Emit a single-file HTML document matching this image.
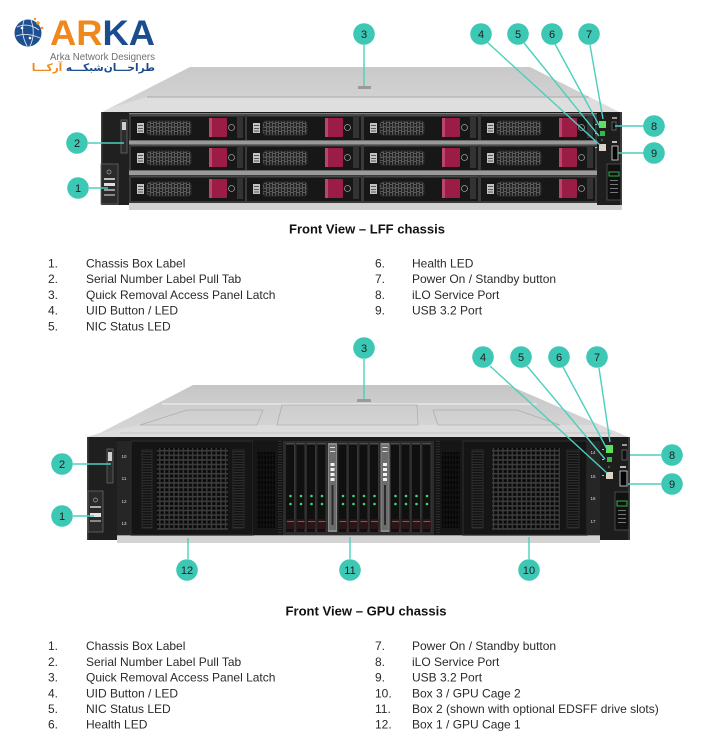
<!DOCTYPE html>
<html><head><meta charset="utf-8">
<style>
html,body{margin:0;padding:0;background:#fff;}
body{position:relative;width:720px;height:750px;overflow:hidden;}
svg{position:absolute;left:0;top:0;display:block}
text{font-family:"Liberation Sans",sans-serif;}
.fa{position:absolute;font-family:"DejaVu Sans",sans-serif;font-size:10.5px;line-height:12px;white-space:nowrap;font-weight:bold;}
</style></head><body>
<svg width="720" height="750" viewBox="0 0 720 750" xmlns="http://www.w3.org/2000/svg">
<defs>
 <linearGradient id="topG" x1="0" y1="0" x2="0" y2="1">
  <stop offset="0" stop-color="#c9c9c9"/><stop offset="1" stop-color="#d6d6d6"/>
 </linearGradient>
 <linearGradient id="topG2" x1="0" y1="0" x2="0" y2="1">
  <stop offset="0" stop-color="#c6c6c6"/><stop offset="1" stop-color="#d8d8d8"/>
 </linearGradient>
 <pattern id="hex" width="6" height="8" patternUnits="userSpaceOnUse">
  <rect width="6" height="8" fill="#1d1d1d"/>
  <circle cx="3" cy="2" r="1.9" fill="none" stroke="#858585" stroke-width="0.7"/>
  <circle cx="0" cy="6" r="1.9" fill="none" stroke="#858585" stroke-width="0.7"/>
  <circle cx="6" cy="6" r="1.9" fill="none" stroke="#858585" stroke-width="0.7"/>
 </pattern>
 <pattern id="grid" width="4.7" height="4.6" patternUnits="userSpaceOnUse">
  <rect width="4.7" height="4.6" fill="#3c3c3c"/>
  <rect x="0.7" y="0.7" width="3.3" height="3" fill="#0a0a0a"/>
 </pattern>
 <pattern id="ribs" width="4" height="2.6" patternUnits="userSpaceOnUse">
  <rect width="4" height="2.6" fill="#111"/>
  <rect y="1.6" width="4" height="0.8" fill="#3a3a3a"/>
 </pattern>
 <pattern id="vent" width="3" height="5" patternUnits="userSpaceOnUse">
  <rect width="3" height="5" fill="#151515"/>
  <rect x="0.3" y="0.5" width="2" height="4" fill="#050505"/>
 </pattern>
 <g id="ldrv">
  <rect width="114" height="25" fill="#171717"/>
  <rect width="114" height="1.5" fill="#4a4a4a"/>
  <rect x="6" y="8" width="7" height="10" fill="#c4c4c4"/>
  <rect x="7" y="10" width="5" height="1" fill="#555"/>
  <rect x="7" y="13" width="5" height="1" fill="#555"/>
  <rect x="7" y="15.5" width="5" height="1" fill="#555"/>
  <rect x="16" y="6" width="44" height="14" rx="3" fill="url(#hex)" stroke="#2e2e2e" stroke-width="1"/>
  <rect x="78" y="3" width="18" height="19" rx="1" fill="#9b1c44"/>
  <rect x="78" y="3" width="3" height="19" fill="#b9476c"/>
  <circle cx="100.5" cy="12.5" r="3" fill="none" stroke="#9a9a9a" stroke-width="0.8"/>
  <rect x="106" y="2" width="6" height="21" fill="#333"/>
 </g>
 <g id="gdrv">
  <rect width="9" height="89" fill="#101010"/>
  <rect width="9" height="1.5" fill="#4a4a4a"/>
  <rect x="8" width="1" height="89" fill="#383838"/>
  <circle cx="4.5" cy="53" r="1.3" fill="#3fd67a"/>
  <circle cx="4.5" cy="61" r="1.3" fill="#3fd67a"/>
  <rect x="0.5" y="76" width="8" height="10" fill="#2b1517"/>
  <rect x="1" y="78" width="7" height="1" fill="#c33a4d"/>
 </g>
 <g id="ctrl">
  <rect width="9" height="89" fill="#8a8a8a"/>
  <rect x="1" y="2" width="7" height="85" fill="#6c6c6c"/>
  <rect x="2.5" y="20" width="4" height="3" fill="#f2f2f2"/>
  <rect x="2.5" y="25" width="4" height="3" fill="#f2f2f2"/>
  <rect x="2.5" y="30" width="4" height="3" fill="#f2f2f2"/>
  <rect x="2.5" y="35" width="4" height="3" fill="#f2f2f2"/>
  <rect x="3.5" y="42" width="2" height="40" fill="#2a2a2a"/>
  <rect x="2" y="4" width="5" height="1" fill="#ddd"/>
  <rect x="2" y="8" width="5" height="1" fill="#ddd"/>
 </g>
</defs>

<!-- ===== LOGO ===== -->
<circle cx="28" cy="33" r="13.5" fill="#1d4f91"/>
<path d="M17,27 Q28,22 39,30 M16,36 Q27,32 40,38 M24,20 Q20,33 27,46 M31,20 Q36,34 30,46" fill="none" stroke="#fff" stroke-width="0.9" opacity="0.85"/>
<circle cx="38" cy="23" r="1.8" fill="#f39a2b"/>
<circle cx="42" cy="28" r="1.4" fill="#f39a2b"/>
<circle cx="35" cy="19" r="1.2" fill="#f39a2b"/>
<circle cx="22" cy="28" r="1.3" fill="#fff"/>
<circle cx="30" cy="38" r="1.3" fill="#fff"/>
<text x="50" y="45" font-size="35" font-weight="bold" textLength="105" lengthAdjust="spacingAndGlyphs"><tspan fill="#f0891d">AR</tspan><tspan fill="#1b4d8e">KA</tspan></text>
<text x="50" y="60" font-size="10.5" fill="#707070" textLength="105" lengthAdjust="spacingAndGlyphs">Arka Network Designers</text>

<!-- ===== LFF SERVER ===== -->
<polygon points="190,67 530,67 621,113 101,113 110,108" fill="url(#topG)"/>
<polygon points="147,97 589,97 621,113 101,113 110,108" fill="#dedede"/>
<line x1="147" y1="97" x2="589" y2="97" stroke="#a8a8a8" stroke-width="1"/>
<rect x="101" y="112" width="521" height="93" fill="#1b1b1b"/>
<rect x="129" y="203" width="493" height="7" fill="#d2d2d2"/>
<rect x="129" y="113" width="468" height="90" fill="#3a3a3a"/>
<rect x="129" y="113" width="468" height="1.2" fill="#808080"/>
<rect x="129" y="140.5" width="468" height="4" fill="#9a9a9a"/>
<rect x="129" y="170.5" width="468" height="4.5" fill="#9a9a9a"/>
<use href="#ldrv" x="131" y="115"/><use href="#ldrv" x="247" y="115"/><use href="#ldrv" x="364" y="115"/><use href="#ldrv" x="481" y="115"/>
<use href="#ldrv" x="131" y="145"/><use href="#ldrv" x="247" y="145"/><use href="#ldrv" x="364" y="145"/><use href="#ldrv" x="481" y="145"/>
<use href="#ldrv" x="131" y="176"/><use href="#ldrv" x="247" y="176"/><use href="#ldrv" x="364" y="176"/><use href="#ldrv" x="481" y="176"/>
<!-- left ear -->
<rect x="101" y="112" width="28" height="93" fill="#202020"/>
<rect x="101" y="112" width="1.5" height="93" fill="#3d3d3d"/>
<rect x="121" y="120" width="6" height="33" fill="#2c2c2c" stroke="#6a6a6a" stroke-width="0.8"/>
<rect x="122" y="122" width="4" height="8" fill="#cfcfcf"/>
<rect x="101" y="164" width="17" height="40" fill="#2b2b2b" stroke="#666" stroke-width="0.8"/>
<circle cx="109" cy="172" r="2" fill="none" stroke="#aaa" stroke-width="0.7"/>
<rect x="104" y="178" width="11" height="2" fill="#bbb"/>
<rect x="104" y="183" width="11" height="3" fill="#ddd"/>
<rect x="104" y="189" width="11" height="2" fill="#999"/>
<rect x="104" y="194" width="11" height="2" fill="#888"/>
<!-- right ear -->
<rect x="597" y="112" width="25" height="93" fill="#1e1e1e"/>
<rect x="620" y="112" width="2" height="93" fill="#3a3a3a"/>
<rect x="599" y="121" width="7" height="7" fill="#5fe05a"/>
<rect x="600" y="131" width="5" height="5" fill="#2fbf3f"/>
<circle cx="602" cy="140" r="1.2" fill="#555"/>
<rect x="599" y="144" width="7" height="7" fill="#ddd3c4"/>
<rect x="595" y="124" width="2" height="1" fill="#bbb"/><rect x="595" y="133" width="2" height="1" fill="#bbb"/><rect x="595" y="147" width="2" height="1" fill="#bbb"/>
<rect x="612" y="117" width="5" height="2" fill="#999"/>
<rect x="612" y="122" width="4" height="8" fill="#111" stroke="#777" stroke-width="0.7"/>
<rect x="612" y="141" width="5" height="2" fill="#bbb"/>
<rect x="612" y="146" width="6" height="14" fill="#050505" stroke="#c9c9c9" stroke-width="0.9"/>
<rect x="607" y="164" width="14" height="36" fill="#111" stroke="#555" stroke-width="0.8"/>
<rect x="609" y="172" width="10" height="4" fill="none" stroke="#2ab34a" stroke-width="1"/>
<rect x="610" y="180" width="8" height="1" fill="#777"/><rect x="610" y="184" width="8" height="1" fill="#777"/><rect x="610" y="188" width="8" height="1" fill="#777"/><rect x="610" y="192" width="8" height="1" fill="#777"/>

<!-- LFF callouts -->
<g stroke="#4ccfbd" stroke-width="1.4" fill="none">
 <line x1="364" y1="45" x2="364" y2="88"/>
 <line x1="487" y1="42" x2="600" y2="145"/>
 <line x1="524" y1="43" x2="599" y2="136"/>
 <line x1="555" y1="44" x2="600" y2="127"/>
 <line x1="590" y1="45" x2="603" y2="119"/>
 <line x1="615" y1="126" x2="644" y2="126"/>
 <line x1="618" y1="153" x2="644" y2="153"/>
 <line x1="88" y1="143" x2="124" y2="143"/>
 <line x1="89" y1="188" x2="108" y2="188"/>
</g>
<rect x="358" y="86" width="13" height="3" fill="#9a9a9a"/>
<g fill="#3cc8b4">
 <circle cx="364" cy="34" r="10.8"/><circle cx="481" cy="34" r="10.8"/><circle cx="518" cy="34" r="10.8"/>
 <circle cx="552" cy="34" r="10.8"/><circle cx="589" cy="34" r="10.8"/><circle cx="654" cy="126" r="10.8"/>
 <circle cx="654" cy="153" r="10.8"/><circle cx="77" cy="143" r="10.8"/><circle cx="78" cy="188" r="10.8"/>
</g>
<g font-size="11" fill="#1e1e1e" text-anchor="middle">
 <text x="364" y="38">3</text><text x="481" y="38">4</text><text x="518" y="38">5</text>
 <text x="552" y="38">6</text><text x="589" y="38">7</text><text x="654" y="130">8</text>
 <text x="654" y="157">9</text><text x="77" y="147">2</text><text x="78" y="192">1</text>
</g>

<!-- LFF texts -->
<text x="367" y="233.5" font-size="13" font-weight="bold" fill="#111" text-anchor="middle" textLength="156" lengthAdjust="spacingAndGlyphs">Front View – LFF chassis</text>
<g font-size="12" fill="#2a2a2a">
 <text x="48" y="267.5">1.</text><text x="86" y="267.5">Chassis Box Label</text>
 <text x="48" y="283.2">2.</text><text x="86" y="283.2">Serial Number Label Pull Tab</text>
 <text x="48" y="299">3.</text><text x="86" y="299">Quick Removal Access Panel Latch</text>
 <text x="48" y="314.7">4.</text><text x="86" y="314.7">UID Button / LED</text>
 <text x="48" y="330.3">5.</text><text x="86" y="330.3">NIC Status LED</text>
 <text x="375" y="267.5">6.</text><text x="412" y="267.5">Health LED</text>
 <text x="375" y="283.2">7.</text><text x="412" y="283.2">Power On / Standby button</text>
 <text x="375" y="299">8.</text><text x="412" y="299">iLO Service Port</text>
 <text x="375" y="314.7">9.</text><text x="412" y="314.7">USB 3.2 Port</text>
</g>

<!-- ===== GPU SERVER ===== -->
<polygon points="193,385 508,385 628,437 87,437 100,433" fill="url(#topG2)"/>
<polygon points="140,425 600,425 628,437 87,437 100,433" fill="#dcdcdc"/>
<line x1="162" y1="404" x2="537" y2="404" stroke="#e8e8e8" stroke-width="1.5"/>
<line x1="120" y1="433" x2="612" y2="433" stroke="#bdbdbd" stroke-width="0.8"/>
<g fill="none" stroke="#aeaeae" stroke-width="0.8">
 <polygon points="187,410 263,410 257,425 140,425"/>
 <polygon points="282,405 417,405 418,425 277,425"/>
 <polygon points="433,410 517,410 560,425 438,425"/>
</g>
<rect x="87" y="437" width="543" height="103" fill="#1a1a1a"/>
<rect x="117" y="535" width="483" height="8" fill="#d3d3d3"/>
<rect x="117" y="535" width="483" height="1" fill="#9a9a9a"/>
<!-- left ear -->
<rect x="87" y="437" width="30" height="103" fill="#1f1f1f"/>
<rect x="87" y="437" width="1.5" height="103" fill="#3d3d3d"/>
<rect x="107" y="449" width="6" height="34" fill="#2c2c2c" stroke="#666" stroke-width="0.8"/>
<rect x="108" y="452" width="4" height="9" fill="#d0d0d0"/>
<rect x="88" y="491" width="15" height="41" fill="#2a2a2a" stroke="#666" stroke-width="0.8"/>
<circle cx="95.5" cy="500" r="2" fill="none" stroke="#aaa" stroke-width="0.7"/>
<rect x="90" y="506" width="11" height="2" fill="#aaa"/>
<rect x="90" y="513" width="11" height="4" fill="#e4e4e4"/>
<rect x="90" y="520" width="11" height="2" fill="#888"/>
<!-- number strip left -->
<rect x="117" y="441" width="14" height="94" fill="#262626"/>
<g font-size="4.5" fill="#ddd" text-anchor="middle"><text x="124" y="458">10</text><text x="124" y="480">11</text><text x="124" y="503">12</text><text x="124" y="525">13</text></g>
<!-- GPU cage 1 -->
<rect x="131" y="441" width="122" height="94" fill="#151515" stroke="#2e2e2e" stroke-width="1"/>
<rect x="157" y="448" width="71" height="82" fill="url(#grid)"/>
<rect x="142" y="450" width="10" height="78" fill="url(#ribs)" stroke="#2a2a2a"/>
<rect x="233" y="450" width="11" height="78" fill="url(#ribs)" stroke="#2a2a2a"/>
<!-- vent strip 1 -->
<rect x="253" y="441" width="30" height="94" fill="#161616"/>
<rect x="257" y="452" width="18" height="76" fill="url(#vent)"/>
<rect x="278" y="441" width="4" height="94" fill="url(#ribs)"/>
<!-- drive cage -->
<rect x="283" y="441" width="151" height="94" fill="#2c2c2c"/>
<use href="#gdrv" x="286" y="443"/><use href="#gdrv" x="296.5" y="443"/><use href="#gdrv" x="307" y="443"/><use href="#gdrv" x="317.5" y="443"/>
<use href="#ctrl" x="328" y="443"/>
<use href="#gdrv" x="338.5" y="443"/><use href="#gdrv" x="349" y="443"/><use href="#gdrv" x="359.5" y="443"/><use href="#gdrv" x="370" y="443"/>
<use href="#ctrl" x="380.5" y="443"/>
<use href="#gdrv" x="391" y="443"/><use href="#gdrv" x="401.5" y="443"/><use href="#gdrv" x="412" y="443"/><use href="#gdrv" x="422.5" y="443"/>
<!-- vent strip 2 -->
<rect x="434" y="441" width="29" height="94" fill="#161616"/>
<rect x="436" y="441" width="4" height="94" fill="url(#ribs)"/>
<rect x="442" y="452" width="18" height="76" fill="url(#vent)"/>
<!-- GPU cage 2 -->
<rect x="463" y="441" width="124" height="94" fill="#151515" stroke="#2e2e2e" stroke-width="1"/>
<rect x="492" y="448" width="68" height="82" fill="url(#grid)"/>
<rect x="472" y="450" width="11" height="78" fill="url(#ribs)" stroke="#2a2a2a"/>
<rect x="567" y="450" width="12" height="78" fill="url(#ribs)" stroke="#2a2a2a"/>
<!-- number strip right -->
<rect x="587" y="441" width="13" height="94" fill="#262626"/>
<g font-size="4.5" fill="#ddd" text-anchor="middle"><text x="593" y="454">14</text><text x="593" y="478">15</text><text x="593" y="500">16</text><text x="593" y="523">17</text></g>
<!-- right ear -->
<rect x="600" y="437" width="30" height="103" fill="#1d1d1d"/>
<rect x="628" y="437" width="2" height="103" fill="#3a3a3a"/>
<rect x="606" y="445" width="7" height="8" fill="#5fe05a"/>
<rect x="607" y="457" width="5" height="5" fill="#2fbf3f"/>
<circle cx="609" cy="467" r="1.2" fill="#555"/>
<rect x="606" y="472" width="7" height="7" fill="#ddd3c4"/>
<rect x="602" y="449" width="2" height="1" fill="#bbb"/><rect x="602" y="459" width="2" height="1" fill="#bbb"/><rect x="602" y="475" width="2" height="1" fill="#bbb"/>
<rect x="622" y="444" width="5" height="2" fill="#999"/>
<rect x="622" y="450" width="5" height="10" fill="#111" stroke="#777" stroke-width="0.7"/>
<rect x="620" y="466" width="6" height="2" fill="#bbb"/>
<rect x="620" y="471" width="7" height="15" fill="#050505" stroke="#c9c9c9" stroke-width="0.9"/>
<rect x="615" y="492" width="14" height="38" fill="#111" stroke="#555" stroke-width="0.8"/>
<rect x="617" y="501" width="10" height="5" fill="none" stroke="#2ab34a" stroke-width="1"/>
<rect x="618" y="510" width="8" height="1" fill="#777"/><rect x="618" y="514" width="8" height="1" fill="#777"/><rect x="618" y="518" width="8" height="1" fill="#777"/><rect x="618" y="522" width="8" height="1" fill="#777"/>

<!-- GPU callouts -->
<g stroke="#4ccfbd" stroke-width="1.4" fill="none">
 <line x1="364" y1="359" x2="364" y2="400"/>
 <line x1="490" y1="366" x2="607" y2="473"/>
 <line x1="527" y1="366" x2="605" y2="459"/>
 <line x1="563" y1="367" x2="607" y2="449"/>
 <line x1="599" y1="368" x2="610" y2="442"/>
 <line x1="630" y1="455" x2="661" y2="455"/>
 <line x1="628" y1="484" x2="661" y2="484"/>
 <line x1="73" y1="464" x2="111" y2="464"/>
 <line x1="73" y1="516" x2="94" y2="516"/>
 <line x1="188" y1="538" x2="188" y2="559"/>
 <line x1="350" y1="537" x2="350" y2="559"/>
 <line x1="529" y1="537" x2="529" y2="559"/>
</g>
<rect x="357" y="399" width="14" height="3" fill="#9a9a9a"/>
<g fill="#3cc8b4">
 <circle cx="364" cy="348" r="10.8"/><circle cx="483" cy="357" r="10.8"/><circle cx="521" cy="357" r="10.8"/>
 <circle cx="559" cy="357" r="10.8"/><circle cx="597" cy="357" r="10.8"/><circle cx="672" cy="455" r="10.8"/>
 <circle cx="672" cy="484" r="10.8"/><circle cx="62" cy="464" r="10.8"/><circle cx="62" cy="516" r="10.8"/>
 <circle cx="187" cy="570" r="10.8"/><circle cx="350" cy="570" r="10.8"/><circle cx="529" cy="570" r="10.8"/>
</g>
<g font-size="11" fill="#1e1e1e" text-anchor="middle">
 <text x="364" y="352">3</text><text x="483" y="361">4</text><text x="521" y="361">5</text>
 <text x="559" y="361">6</text><text x="597" y="361">7</text><text x="672" y="459">8</text>
 <text x="672" y="488">9</text><text x="62" y="468">2</text><text x="62" y="520">1</text>
 <text x="187" y="574">12</text><text x="350" y="574">11</text><text x="529" y="574">10</text>
</g>

<!-- GPU texts -->
<text x="366" y="615.4" font-size="13" font-weight="bold" fill="#111" text-anchor="middle" textLength="161" lengthAdjust="spacingAndGlyphs">Front View – GPU chassis</text>
<g font-size="12" fill="#2a2a2a">
 <text x="48" y="650.2">1.</text><text x="86" y="650.2">Chassis Box Label</text>
 <text x="48" y="666">2.</text><text x="86" y="666">Serial Number Label Pull Tab</text>
 <text x="48" y="681.6">3.</text><text x="86" y="681.6">Quick Removal Access Panel Latch</text>
 <text x="48" y="697.3">4.</text><text x="86" y="697.3">UID Button / LED</text>
 <text x="48" y="712.9">5.</text><text x="86" y="712.9">NIC Status LED</text>
 <text x="48" y="728.6">6.</text><text x="86" y="728.6">Health LED</text>
 <text x="375" y="650.2">7.</text><text x="412" y="650.2">Power On / Standby button</text>
 <text x="375" y="666">8.</text><text x="412" y="666">iLO Service Port</text>
 <text x="375" y="681.6">9.</text><text x="412" y="681.6">USB 3.2 Port</text>
 <text x="375" y="697.3">10.</text><text x="412" y="697.3">Box 3 / GPU Cage 2</text>
 <text x="375" y="712.9">11.</text><text x="412" y="712.9">Box 2 (shown with optional EDSFF drive slots)</text>
 <text x="375" y="728.6">12.</text><text x="412" y="728.6">Box 1 / GPU Cage 1</text>
</g>
</svg>
<div class="fa" dir="rtl" style="right:565px;top:62px;"><span style="color:#1b4d8e">طراحـــان‌شبکـــه</span> <span style="color:#f0891d">آرکـــا</span></div>
</body></html>
